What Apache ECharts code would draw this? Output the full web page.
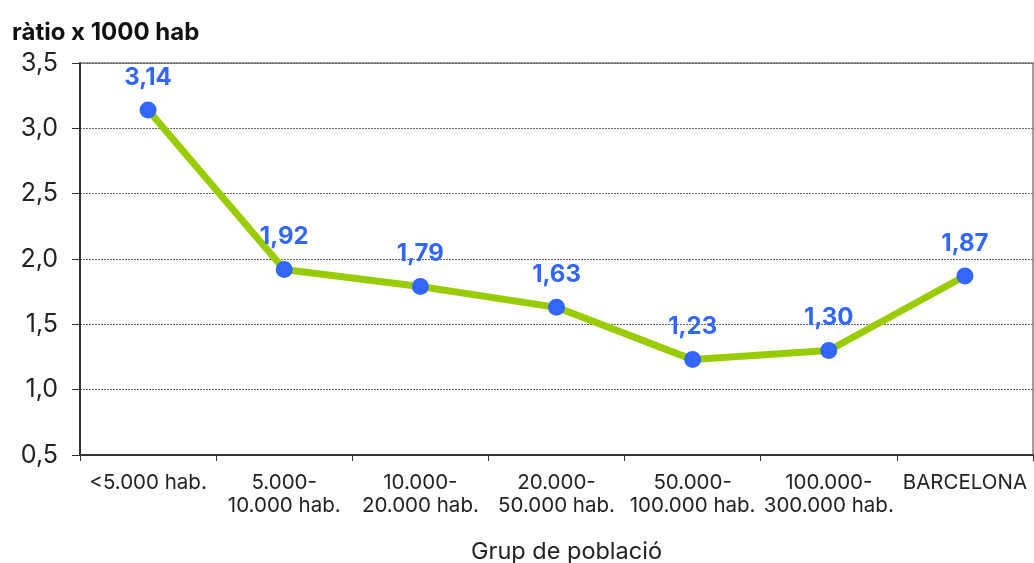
<!DOCTYPE html>
<html>
<head>
<meta charset="utf-8">
<script src="https://cdn.jsdelivr.net/npm/echarts@6/dist/echarts.min.js"></script>
<style>
  html, body { margin: 0; padding: 0; background: #fff; }
  #chart { width: 1034px; height: 563px; }
</style>
</head>
<body>
<div id="chart"></div>
<script>
// Ràtio per 1000 habitants segons grup de població
const categories = [
  '<5.000 hab.',
  '5.000-\n10.000 hab.',
  '10.000-\n20.000 hab.',
  '20.000-\n50.000 hab.',
  '50.000-\n100.000 hab.',
  '100.000-\n300.000 hab.',
  'BARCELONA'
];
const ratios = [3.14, 1.92, 1.79, 1.63, 1.23, 1.30, 1.87];
const yTicks = [0.5, 1.0, 1.5, 2.0, 2.5, 3.0, 3.5];

const comma = v => v.toFixed(2).replace('.', ',');
const FONT = 'Inter';

const chart = echarts.init(document.getElementById('chart'), null, { renderer: 'canvas' });
chart.setOption({
  animation: false,
  backgroundColor: '#fff',
  textStyle: { fontFamily: FONT },
  title: {
    text: 'ràtio x 1000 hab',
    left: 7,
    top: 16,
    textStyle: { fontFamily: FONT, fontSize: 24, fontWeight: 'bold', color: '#111' }
  },
  grid: {
    left: 80, right: 1, top: 63, bottom: 108,
    outerBoundsMode: 'none',
    containLabel: false,
    show: true, borderColor: '#808080', borderWidth: 1.5, backgroundColor: 'transparent'
  },
  xAxis: {
    type: 'category',
    data: categories,
    boundaryGap: true,
    name: 'Grup de població',
    nameLocation: 'middle',
    nameGap: 85,
    nameTextStyle: { fontFamily: FONT, fontSize: 23.5, color: '#222', padding: [0, 0, 0, 20] },
    axisLine: { lineStyle: { color: '#333', width: 2 } },
    axisTick: { show: true, alignWithLabel: false, length: 6, lineStyle: { color: '#333', width: 1 } },
    axisLabel: {
      interval: 0, margin: 16, fontFamily: FONT, fontSize: 20.5, color: '#222', lineHeight: 23
    },
    splitLine: { show: false }
  },
  yAxis: {
    type: 'value',
    min: yTicks[0],
    max: yTicks[yTicks.length - 1],
    interval: 0.5,
    axisLine: { show: true, lineStyle: { color: '#333', width: 2 } },
    axisTick: { show: true, length: 8, lineStyle: { color: '#333', width: 1 } },
    axisLabel: {
      margin: 22, fontFamily: FONT, fontSize: 25, color: '#222',
      formatter: v => v.toFixed(1).replace('.', ',')
    },
    splitLine: { show: true, lineStyle: { color: '#666', width: 1, type: [2, 1] } }
  },
  series: [{
    type: 'line',
    data: ratios,
    lineStyle: { color: '#99cc00', width: 7 },
    symbol: 'circle',
    symbolSize: 17,
    itemStyle: { color: '#3366ff', borderWidth: 0 },
    label: {
      show: true,
      position: 'top',
      distance: 12,
      formatter: p => comma(p.value),
      fontFamily: FONT, fontSize: 24, fontWeight: 'bold', color: '#3366ff'
    },
    z: 3
  }]
});
</script>
</body>
</html>
